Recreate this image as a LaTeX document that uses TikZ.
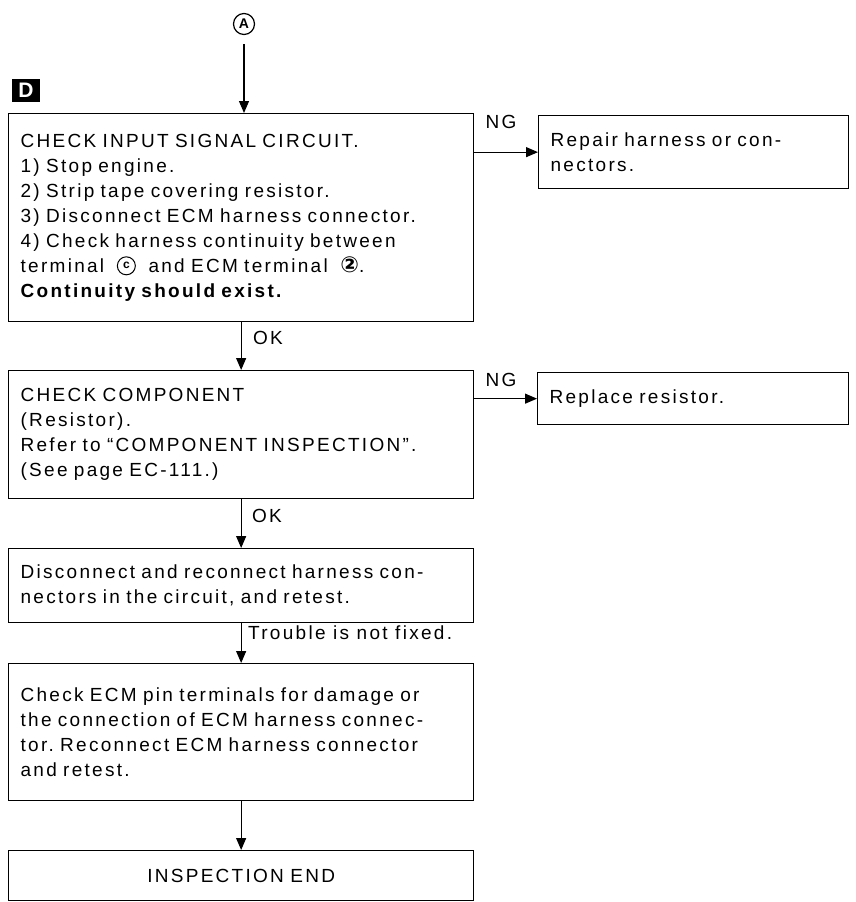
\documentclass[tikz,border=0pt]{standalone}
\usepackage{fontspec}
\setmainfont[LetterSpace=12]{Liberation Sans}
\newfontfamily\symfont{DejaVu Sans}
\usetikzlibrary{arrows.meta}
\newcommand\ff{\fontsize{19}{25}\selectfont\frenchspacing}
\newcommand\circc{\tikz[baseline={([yshift=-6.5pt]cc.center)}]\node[draw,circle,line width=1pt,inner sep=0pt,minimum size=18pt,font=\fontsize{12}{12}\selectfont\bfseries] (cc) {c};}
\begin{document}
\begin{tikzpicture}[x=1pt,y=-1pt,
  box/.style={draw,line width=1.3pt,anchor=north west,align=left,inner xsep=12pt,inner ysep=0pt,font=\ff},
  arr/.style={line width=1.2pt,-{Triangle[length=12pt,width=10pt]}},
  lbl/.style={font=\ff,inner sep=0pt}]
\useasboundingbox (0,0) rectangle (855,902);
% markers
\node[draw,circle,line width=1.2pt,minimum size=21pt,inner sep=0pt,font=\fontsize{14}{14}\selectfont\bfseries] (A) at (244,24) {A};
\node[fill=black,text=white,minimum width=28pt,minimum height=23pt,inner sep=0pt,font=\fontsize{21}{21}\selectfont\bfseries] (D) at (26,90.5) {D};
% boxes
\node[box,minimum width=465pt,minimum height=208pt,text width=441pt] (b1) at (8,113)
 {CHECK INPUT SIGNAL CIRCUIT.\\1) Stop engine.\\2) Strip tape covering resistor.\\3) Disconnect ECM harness connector.\\4) Check harness continuity between\\terminal \ \circc\ \ and ECM terminal \ {\symfont\bfseries\fontsize{22}{22}\selectfont ②}.\\\textbf{Continuity should exist.}};
\node[box,minimum width=310pt,minimum height=73pt,text width=286pt] (b2) at (538,115)
 {Repair harness or con-\\nectors.};
\node[box,minimum width=465pt,minimum height=128pt,text width=441pt] (b3) at (8,370)
 {CHECK COMPONENT\\(Resistor).\\Refer to ``COMPONENT INSPECTION''.\\(See page EC-111.)};
\node[box,minimum width=311pt,minimum height=52pt,text width=287pt] (b4) at (537,372)
 {Replace resistor.};
\node[box,minimum width=465pt,minimum height=74pt,text width=441pt] (b5) at (8,548)
 {Disconnect and reconnect harness con-\\nectors in the circuit, and retest.};
\node[box,minimum width=465pt,minimum height=137pt,text width=441pt] (b6) at (8,663)
 {Check ECM pin terminals for damage or\\the connection of ECM harness connec-\\tor. Reconnect ECM harness connector\\and retest.};
\node[box,minimum width=465pt,minimum height=50pt,text width=441pt,align=center] (b7) at (8,850)
 {INSPECTION END};
% labels
\node[lbl] (ng1) at (501,122) {NG};
\node[lbl] (ng2) at (501,380) {NG};
\node[lbl,anchor=west] (ok1) at (253,338) {OK};
\node[lbl,anchor=west] (ok2) at (252,516) {OK};
\node[lbl,anchor=west] (tr) at (248,633) {Trouble is not fixed.};
% connectors
\draw[arr] ([yshift=-9pt]A.south) -- (A.south |- b1.north);
\draw[arr] (b1.south) -- (b3.north);
\draw[arr] (b3.south) -- (b5.north);
\draw[arr] (b5.south) -- (b6.north);
\draw[arr] (b6.south) -- (b7.north);
\draw[arr] (b1.east |- b2.west) -- (b2.west);
\draw[arr] (b3.east |- b4.west) -- (b4.west);
\end{tikzpicture}
\end{document}
